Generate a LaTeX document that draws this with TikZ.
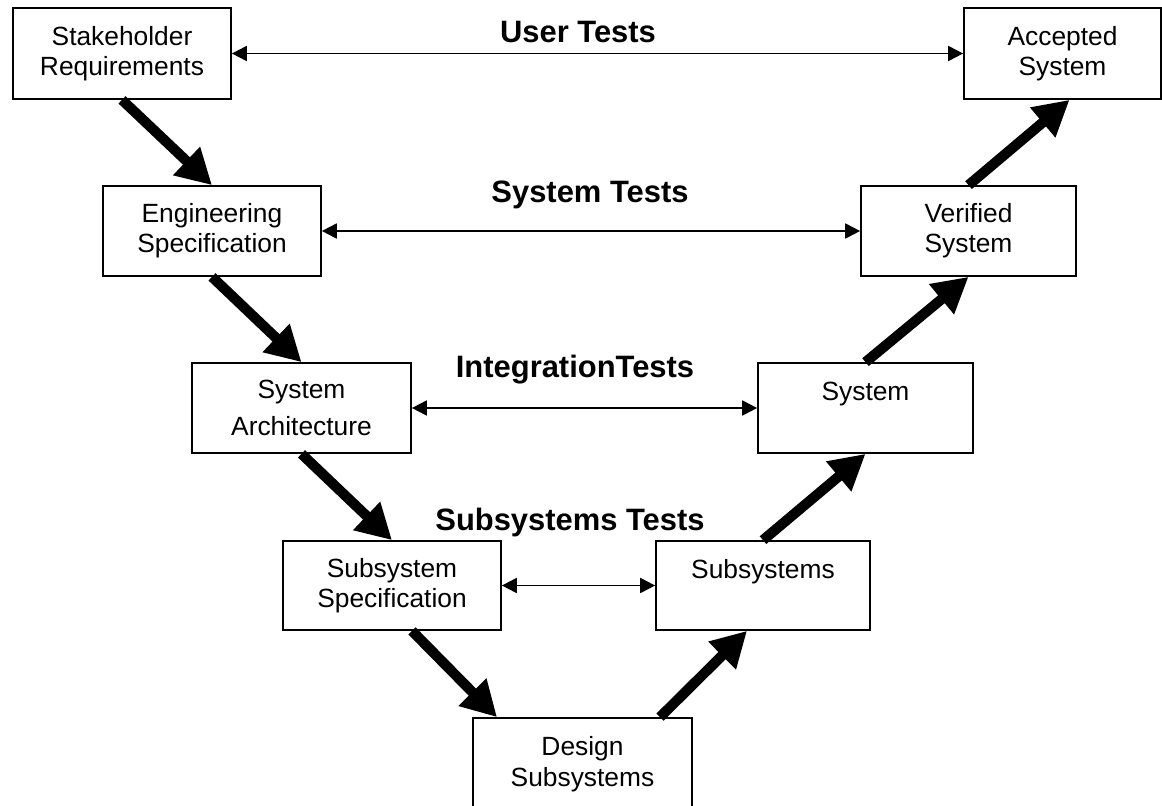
\documentclass[tikz,border=0pt]{standalone}
\usepackage{fontspec}
\setmainfont{Liberation Sans}
\usetikzlibrary{arrows.meta}

\tikzset{
    stagebox/.style={draw,line width=1pt,align=center,inner sep=0pt,
        font=\fontsize{15}{17}\selectfont},
    testlabel/.style={anchor=base,inner sep=0pt,font=\fontsize{17.6}{20}\selectfont\bfseries},
    bigarrow/.style={line width=5.8pt,-{Triangle[length=20pt,width=21pt]}},
    testarrow/.style={line width=1.1pt,{Triangle[length=8.5pt,width=8.5pt]}-{Triangle[length=8.5pt,width=8.5pt]}}
}

\begin{document}
\begin{tikzpicture}[x=0.02cm,y=-0.02cm]
        \useasboundingbox (0,0) rectangle (1162,805);

        % left leg
        \node[stagebox,minimum width=4.36cm,minimum height=1.82cm] (stake) at (122,53.5) {Stakeholder\\Requirements};
        \node[stagebox,minimum width=4.36cm,minimum height=1.8cm] (eng) at (212,231) {Engineering\\Specification};
        \node[stagebox,minimum width=4.38cm,minimum height=1.8cm] (arch) at (301.5,408) {System\\[4.5pt]Architecture};
        \node[stagebox,minimum width=4.36cm,minimum height=1.78cm] (subspec) at (392,585.5) {Subsystem\\Specification};

        % bottom, cut by the page edge
        \node[stagebox,minimum width=4.38cm,minimum height=1.98cm] (design) at (582.5,767.5) {Design\\[1pt]Subsystems\\[-10pt]~};

        % right leg
        \node[stagebox,minimum width=4.28cm,minimum height=1.78cm] (subsys) at (763,585.5) {Subsystems\\[2pt]~};
        \node[stagebox,minimum width=4.3cm,minimum height=1.8cm] (system) at (865.5,408) {System\\[2pt]~};
        \node[stagebox,minimum width=4.3cm,minimum height=1.8cm] (verif) at (968.5,231) {Verified\\System};
        \node[stagebox,minimum width=3.94cm,minimum height=1.82cm] (accept) at (1062.5,53.5) {Accepted\\System};

        % test levels
        \node[testlabel] (usertests) at (578,42) {User Tests};
        \node[testlabel] (systests) at (590,202) {System Tests};
        \node[testlabel] (inttests) at (575,377) {IntegrationTests};
        \node[testlabel] (subtests) at (570,530) {Subsystems Tests};

        \draw[testarrow] (stake.east) -- (accept.west);
        \draw[testarrow] (eng.east) -- (verif.west);
        \draw[testarrow] (arch.east) -- (system.west);
        \draw[testarrow] (subspec.east) -- (subsys.west);

        % V flow
        \draw[bigarrow] (stake.south) -- (eng.north);
        \draw[bigarrow] (eng.south) -- (arch.north);
        \draw[bigarrow] (arch.south) -- (subspec.north);
        \draw[bigarrow] ([xshift=0.4cm]subspec.south) -- ([xshift=-1.71cm]design.north);
        \draw[bigarrow] ([xshift=1.55cm]design.north) -- ([xshift=-0.32cm]subsys.south);
        \draw[bigarrow] (subsys.north) -- (system.south);
        \draw[bigarrow] (system.north) -- (verif.south);
        \draw[bigarrow] (verif.north) -- ([xshift=0.14cm]accept.south);
    \end{tikzpicture}
\end{document}
